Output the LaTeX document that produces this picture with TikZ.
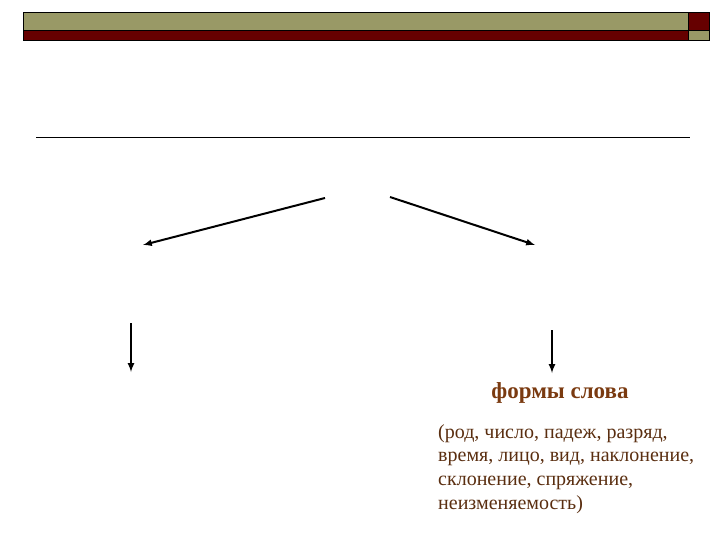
\documentclass[tikz,border=0pt]{standalone}
\usepackage{fontspec}
\setmainfont{Liberation Serif}
\definecolor{barolive}{RGB}{153,153,102}
\definecolor{barred}{RGB}{102,0,0}
\definecolor{titlebrown}{RGB}{122,58,16}
\definecolor{textbrown}{RGB}{90,46,16}
\tikzset{
  pil/.style={-latex, line width=2pt},
  barbox/.style={draw=black, line width=0.8pt}
}
\begin{document}
\begin{tikzpicture}[x=1pt,y=-1pt]
\useasboundingbox (0,0) rectangle (720,540);
% top bar
\draw [barbox, fill=barolive] (23,12) rectangle (688,30);
\draw [barbox, fill=barred] (23,30) rectangle (688,40);
\draw [barbox, fill=barred] (688,12) rectangle (709,30);
\draw [barbox, fill=barolive] (688,30) rectangle (709,40);
% rule
\coordinate (ruleL) at (36,137);
\coordinate (ruleR) at (690,137);
\draw [line width=0.8pt] (ruleL)--(ruleR);
% arrows
\coordinate (topL) at (325,198);
\coordinate (leftE) at (143,245);
\coordinate (topR) at (390,197);
\coordinate (rightE) at (535,245);
\coordinate (downL) at (131,323);
\coordinate (downLE) at (131,372);
\coordinate (downR) at (552,330);
\coordinate (downRE) at (552,373);
\draw [pil] (topL)--(leftE);
\draw [pil] (topR)--(rightE);
\draw [pil] (downL)--(downLE);
\draw [pil] (downR)--(downRE);
% texts
\node [text=titlebrown, font=\fontsize{23}{26}\selectfont\bfseries] (formy) at (560,393) {формы слова};
\node [text=textbrown, font=\fontsize{20}{23.7}\selectfont, align=left, anchor=north west, inner sep=0pt] (spisok) at (438,424)
  {(род, число, падеж, разряд,\\время, лицо, вид, наклонение,\\склонение, спряжение,\\неизменяемость)};
\end{tikzpicture}
\end{document}
